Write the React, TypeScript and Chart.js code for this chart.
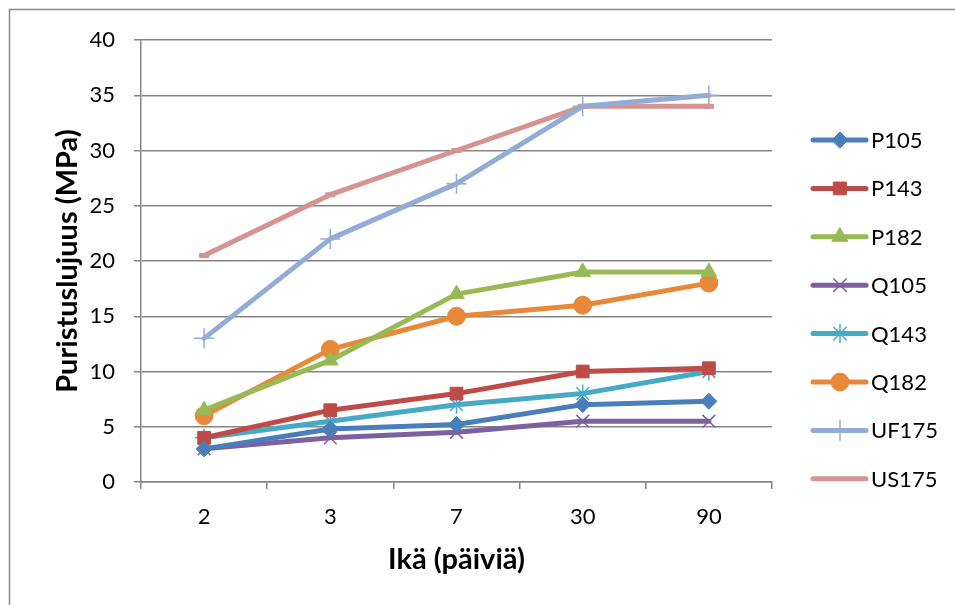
import React, { useEffect, useRef } from "react";
import { Chart, registerables } from "chart.js";
import { drawPoint } from "chart.js/helpers";

Chart.register(...registerables);

const categories = ["2", "3", "7", "30", "90"];
const seriesNames = ["P105", "P143", "P182", "Q105", "Q143", "Q182", "UF175", "US175"];
const P105 = [3, 4.8, 5.2, 7, 7.3];
const P143 = [4, 6.5, 8, 10, 10.3];
const P182 = [6.5, 11, 17, 19, 19];
const Q105 = [3, 4, 4.5, 5.5, 5.5];
const Q143 = [4, 5.5, 7, 8, 10];
const Q182 = [6, 12, 15, 16, 18];
const UF175 = [13, 22, 27, 34, 35];
const US175 = [20.5, 26, 30, 34, 34];
const seriesValues = [P105, P143, P182, Q105, Q143, Q182, UF175, US175];
const colors = ["#4A7EBB", "#BE4B48", "#98B954", "#7D60A0", "#46AAC5", "#E8883A", "#93ACD6", "#D59491"];
const pointStyles = ["rectRot", "rect", "triangle", "crossRot", "star", "circle", "cross", "line"];
const pointRadii = [8, 9, 9, 9, 9, 9, 10, 5];
const pointBorderWidths = [1, 1, 1, 1.5, 1.5, 1, 1.5, 5];
const yTicks = [0, 5, 10, 15, 20, 25, 30, 35, 40];

const FONT = "Lato, 'Open Sans', sans-serif";

export default function App() {
  const ref = useRef<HTMLCanvasElement | null>(null);
  useEffect(() => {
    if (!ref.current) return;
    const border = {
      id: "outerBorder",
      beforeDraw(chart: any) {
        const ctx = chart.ctx;
        ctx.save();
        ctx.strokeStyle = "#8a8a8a";
        ctx.lineWidth = 1.5;
        ctx.beginPath();
        ctx.moveTo(9.5, 605);
        ctx.lineTo(9.5, 9.5);
        ctx.lineTo(955, 9.5);
        ctx.stroke();
        ctx.restore();
      },
    };
    const legend = {
      id: "customLegend",
      afterDraw(chart: any) {
        const ctx = chart.ctx;
        ctx.save();
        chart.data.datasets.forEach((ds: any, i: number) => {
          const y = 140 + i * 48.4;
          ctx.strokeStyle = ds.borderColor;
          ctx.lineWidth = ds.borderWidth;
          ctx.lineCap = "round";
          ctx.beginPath();
          ctx.moveTo(813, y);
          ctx.lineTo(866, y);
          ctx.stroke();
          if (ds.pointStyle !== "line") {
            ctx.fillStyle = ds.pointBackgroundColor;
            ctx.strokeStyle = ds.pointBorderColor;
            ctx.lineWidth = ds.pointBorderWidth;
            drawPoint(ctx, { pointStyle: ds.pointStyle, radius: ds.pointRadius, rotation: 0, borderWidth: ds.pointBorderWidth }, 840, y);
          }
          ctx.fillStyle = "#000";
          ctx.font = "22px " + FONT;
          ctx.textBaseline = "middle";
          ctx.textAlign = "left";
          ctx.fillText(ds.label, 871, y + 1);
        });
        ctx.restore();
      },
    };
    const chart = new Chart(ref.current, {
      type: "line",
      data: {
        labels: categories,
        datasets: seriesNames.map((name, i) => ({
          label: name,
          data: seriesValues[i],
          borderColor: colors[i],
          backgroundColor: colors[i],
          pointBackgroundColor: colors[i],
          pointBorderColor: colors[i],
          borderWidth: 5,
          borderCapStyle: "round",
          borderJoinStyle: "round",
          pointStyle: pointStyles[i],
          pointRadius: pointRadii[i],
          pointBorderWidth: pointBorderWidths[i],
          tension: 0,
        })),
      },
      options: {
        animation: false,
        responsive: false,
        layout: { padding: { left: 40, top: 40, right: 183, bottom: 20 } },
        plugins: { legend: { display: false }, tooltip: { enabled: false } },
        scales: {
          x: {
            offset: true,
            afterFit: (s: any) => { s.height = 103; },
            grid: { offset: true, drawOnChartArea: false, drawTicks: true, tickLength: 7, color: "#868686", lineWidth: 1.5 },
            border: { color: "#868686", width: 1.5 },
            ticks: { color: "#000", font: { family: FONT, size: 22 }, padding: 15 },
            title: { display: true, text: "Ikä (päiviä)", color: "#000", font: { family: FONT, size: 29, weight: "bold" }, padding: { top: 0, bottom: 8 } },
          },
          y: {
            min: 0,
            max: 40,
            afterFit: (s: any) => { s.width = 101; },
            afterBuildTicks: (s: any) => { s.ticks = yTicks.map((v) => ({ value: v })); },
            grid: { color: "#868686", lineWidth: 1.5, tickLength: 7 },
            border: { color: "#868686", width: 1.5 },
            ticks: { color: "#000", font: { family: FONT, size: 22 }, padding: 19 },
            title: { display: true, text: "Puristuslujuus (MPa)", color: "#000", font: { family: FONT, size: 29, weight: "bold" }, padding: { top: 10, bottom: 0 } },
          },
        },
      },
      plugins: [border, legend],
    } as any);
    return () => chart.destroy();
  }, []);
  return (
    <div style={{ position: "fixed", left: 0, top: 0, width: 955, height: 605, background: "#fff" }}>
      <canvas ref={ref} width={955} height={605} style={{ width: 955, height: 605, display: "block" }} />
    </div>
  );
}
